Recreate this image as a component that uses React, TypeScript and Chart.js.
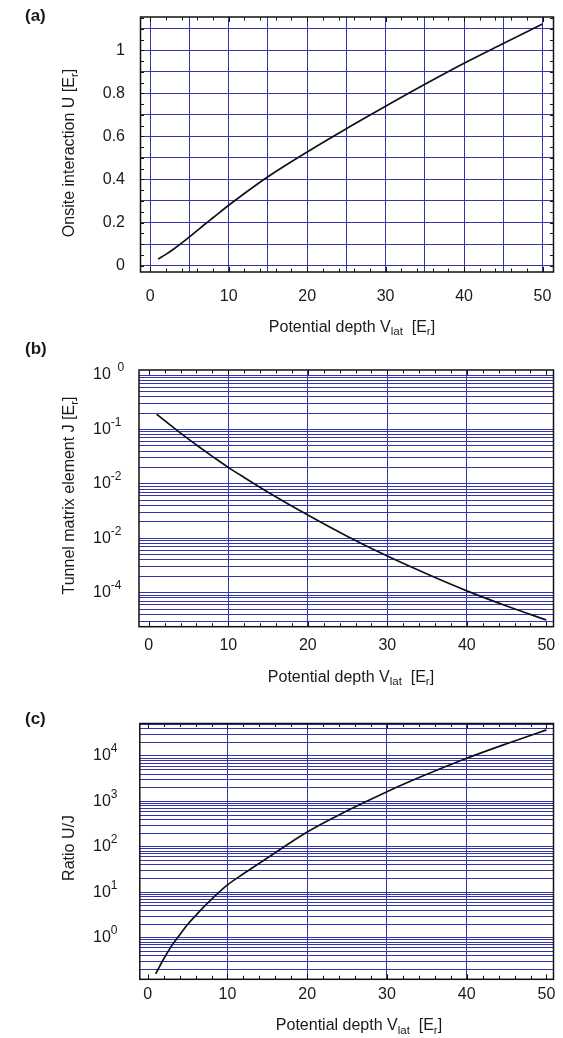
import React, { useEffect, useRef } from 'react';
import { Chart, registerables } from 'chart.js';

Chart.register(...registerables);

// ---------- data ----------
const depthV = [1, 2, 3, 4, 5, 6, 7, 8, 10, 12, 15, 20, 25, 30, 35, 40, 45, 50];
const onsiteU = [0.03, 0.052, 0.077, 0.104, 0.133, 0.163, 0.193, 0.222, 0.28, 0.335, 0.413, 0.528, 0.636, 0.74, 0.842, 0.94, 1.032, 1.123];
const tunnelJ = [0.19, 0.145, 0.111, 0.0855, 0.0662, 0.0516, 0.0406, 0.032, 0.0201, 0.0131, 0.00703, 0.00267, 0.00108, 0.00047, 0.00022, 0.000108, 0.000057, 0.0000315];
const ratioUJ = [0.16, 0.34, 0.66, 1.15, 1.95, 3.05, 4.7, 7.0, 14.5, 25.5, 57, 212, 620, 1640, 3950, 8900, 18600, 37500];

// ---------- tick labels ----------
const xTickValues = [0, 10, 20, 30, 40, 50];
const xTickLabels = ['0', '10', '20', '30', '40', '50'];
const uTickValues = [0, 0.2, 0.4, 0.6, 0.8, 1];
const uTickLabels = ['0', '0.2', '0.4', '0.6', '0.8', '1'];
const jTickValues = [1, 0.1, 0.01, 0.001, 0.0001];
const jTickExponents = ['  0', '-1', '-2', '-2', '-4'];
const rTickValues = [1, 10, 100, 1000, 10000];
const rTickExponents = ['0', '1', '2', '3', '4'];

const xGridA = [0, 5, 10, 15, 20, 25, 30, 35, 40, 45, 50];
const xGridBC = [10, 20, 30, 40];
const uGrid = [0, 0.1, 0.2, 0.3, 0.4, 0.5, 0.6, 0.7, 0.8, 0.9, 1.0, 1.1];

const FONT = '"Liberation Sans", Arial, Helvetica, sans-serif';
const GRID = 'rgb(52,52,172)';
const INK = '#1a1a1a';

type Part = { t: string; s?: 'sub' | 'sup' };

function logGrid(min: number, max: number) {
  const out: { value: number }[] = [];
  for (let e = -6; e <= 5; e++) {
    for (let k = 1; k <= 9; k++) {
      const v = k * Math.pow(10, e);
      if (v >= min && v <= max) out.push({ value: v });
    }
  }
  return out;
}

function drawRich(ctx: CanvasRenderingContext2D, parts: Part[], x: number, y: number, align: 'left' | 'center' | 'right', size: number, small: number, subDy: number, supDy: number) {
  ctx.textBaseline = 'middle';
  ctx.textAlign = 'left';
  const widths = parts.map((p) => {
    ctx.font = `${p.s ? small : size}px ${FONT}`;
    return ctx.measureText(p.t).width;
  });
  const total = widths.reduce((a, b) => a + b, 0);
  let cx = align === 'left' ? x : align === 'center' ? x - total / 2 : x - total;
  parts.forEach((p, i) => {
    ctx.font = `${p.s ? small : size}px ${FONT}`;
    const dy = p.s === 'sub' ? subDy : p.s === 'sup' ? -supDy : 0;
    ctx.fillText(p.t, cx, y + dy);
    cx += widths[i];
  });
}

const xTitle: Part[] = [{ t: 'Potential depth V' }, { t: 'lat', s: 'sub' }, { t: '  [E' }, { t: 'r', s: 'sub' }, { t: ']' }];

interface PanelCfg {
  label: string;
  top: number;
  height: number;
  area: { left: number; right: number; top: number; bottom: number };
  xMin: number; xMax: number; yMin: number; yMax: number;
  yType: 'linear' | 'logarithmic';
  values: number[];
  xGrid: number[];
  yGrid: { value: number }[];
  yTitle: Part[];
  yTitleCenter: [number, number];
  xTitleCenter: [number, number];
  xTickY: number;
  labelY: number;
  yTickDraw: (ctx: CanvasRenderingContext2D, chart: any) => void;
  yMinor?: number[];
}

const panels: PanelCfg[] = [
  {
    label: '(a)', top: 0, height: 340,
    area: { left: 140.5, right: 553.5, top: 17, bottom: 272 },
    xMin: -1.24, xMax: 51.4, yMin: -0.03, yMax: 1.155, yType: 'linear',
    values: onsiteU, xGrid: xGridA, yGrid: uGrid.map((v) => ({ value: v })),
    yTitle: [{ t: 'Onsite interaction U [E' }, { t: 'r', s: 'sub' }, { t: ']' }],
    yTitleCenter: [70, 153], xTitleCenter: [352, 327.5], xTickY: 296.7, labelY: 16,
    yTickDraw: (ctx, chart) => {
      const ys = chart.scales.y;
      ctx.font = `16px ${FONT}`; ctx.textAlign = 'right'; ctx.textBaseline = 'middle';
      uTickValues.forEach((v, i) => ctx.fillText(uTickLabels[i], 125, ys.getPixelForValue(v)));
    },
    yMinor: [0, 0.05, 0.1, 0.15, 0.2, 0.25, 0.3, 0.35, 0.4, 0.45, 0.5, 0.55, 0.6, 0.65, 0.7, 0.75, 0.8, 0.85, 0.9, 0.95, 1.0, 1.05, 1.1, 1.15],
  },
  {
    label: '(b)', top: 340, height: 350,
    area: { left: 139, right: 553.5, top: 370, bottom: 626.7 },
    xMin: -1.23, xMax: 50.9, yMin: 2.37e-5, yMax: 1.236, yType: 'logarithmic',
    values: tunnelJ, xGrid: xGridBC, yGrid: logGrid(2.37e-5, 1.236),
    yTitle: [{ t: 'Tunnel matrix element J [E' }, { t: 'r', s: 'sub' }, { t: ']' }],
    yTitleCenter: [70, 495.5], xTitleCenter: [351, 677.7], xTickY: 645.5, labelY: 349,
    yTickDraw: (ctx, chart) => {
      const ys = chart.scales.y;
      jTickValues.forEach((v, i) => drawRich(ctx, [{ t: '10' }, { t: jTickExponents[i], s: 'sup' }], 93, ys.getPixelForValue(v), 'left', 16, 12, 0, 7));
    },
  },
  {
    label: '(c)', top: 690, height: 348,
    area: { left: 139.8, right: 553.5, top: 723.5, bottom: 979.3 },
    xMin: -0.99, xMax: 50.88, yMin: 0.1214, yMax: 5.19e4, yType: 'logarithmic',
    values: ratioUJ, xGrid: xGridBC, yGrid: logGrid(0.1214, 5.19e4),
    yTitle: [{ t: 'Ratio U/J' }],
    yTitleCenter: [70, 848], xTitleCenter: [359, 1026], xTickY: 995, labelY: 719,
    yTickDraw: (ctx, chart) => {
      const ys = chart.scales.y;
      rTickValues.forEach((v, i) => drawRich(ctx, [{ t: '10' }, { t: rTickExponents[i], s: 'sup' }], 93, ys.getPixelForValue(v), 'left', 16, 12, 0, 7));
    },
  },
];

function Panel({ cfg }: { cfg: PanelCfg }) {
  const ref = useRef<HTMLCanvasElement>(null);
  useEffect(() => {
    if (!ref.current) return;
    const off = cfg.top;
    const decor = {
      id: 'decor',
      afterDraw(chart: any) {
        const ctx: CanvasRenderingContext2D = chart.ctx;
        const a = chart.chartArea;
        const xs = chart.scales.x;
        const ys = chart.scales.y;
        ctx.save();
        // frame
        ctx.strokeStyle = '#111';
        ctx.lineWidth = 1.5;
        ctx.strokeRect(a.left, a.top, a.right - a.left, a.bottom - a.top);
        // minor ticks on x (bottom + top)
        ctx.lineWidth = 1;
        for (let v = 0; v <= 50; v += 2) {
          const px = Math.round(xs.getPixelForValue(v)) + 0.5;
          const len = v % 10 === 0 ? 5 : 3.5;
          ctx.beginPath();
          ctx.moveTo(px, a.bottom); ctx.lineTo(px, a.bottom - len);
          ctx.moveTo(px, a.top); ctx.lineTo(px, a.top + len);
          ctx.stroke();
        }
        if (cfg.yMinor) {
          cfg.yMinor.forEach((v) => {
            const py = Math.round(ys.getPixelForValue(v)) + 0.5;
            ctx.beginPath();
            ctx.moveTo(a.left, py); ctx.lineTo(a.left + 3.5, py);
            ctx.moveTo(a.right, py); ctx.lineTo(a.right - 3.5, py);
            ctx.stroke();
          });
        }
        ctx.fillStyle = INK;
        // y tick labels (scale pixels are canvas-relative)
        cfg.yTickDraw(ctx, chart);
        ctx.translate(0, -off);
        // x tick labels
        ctx.font = `16px ${FONT}`; ctx.textAlign = 'center'; ctx.textBaseline = 'middle';
        xTickValues.forEach((v, i) => ctx.fillText(xTickLabels[i], xs.getPixelForValue(v), cfg.xTickY));
        // x title
        drawRich(ctx, xTitle, cfg.xTitleCenter[0], cfg.xTitleCenter[1], 'center', 16, 11.5, 4.5, 0);
        // panel label
        ctx.font = `bold 17px ${FONT}`; ctx.textAlign = 'left'; ctx.textBaseline = 'middle';
        ctx.fillText(cfg.label, 25, cfg.labelY);
        // y title rotated
        ctx.translate(cfg.yTitleCenter[0], cfg.yTitleCenter[1]);
        ctx.rotate(-Math.PI / 2);
        drawRich(ctx, cfg.yTitle, 0, 0, 'center', 16, 11.5, 4.5, 0);
        ctx.restore();
      },
    };
    const chart = new Chart(ref.current, {
      type: 'line',
      data: {
        datasets: [{
          data: depthV.map((v, i) => ({ x: v, y: cfg.values[i] })),
          borderColor: '#111',
          borderWidth: 1.7,
          pointRadius: 0,
          fill: false,
          cubicInterpolationMode: 'monotone',
        }],
      },
      options: {
        animation: false,
        responsive: false,
        devicePixelRatio: 1,
        layout: {
          padding: {
            left: cfg.area.left,
            right: 563 - cfg.area.right,
            top: cfg.area.top - cfg.top,
            bottom: cfg.top + cfg.height - cfg.area.bottom,
          },
        },
        plugins: { legend: { display: false }, tooltip: { enabled: false } },
        scales: {
          x: {
            type: 'linear', min: cfg.xMin, max: cfg.xMax,
            afterBuildTicks: (s: any) => { s.ticks = cfg.xGrid.map((v) => ({ value: v })); },
            afterFit: (s: any) => { s.height = 0; },
            ticks: { display: false },
            grid: { color: GRID, lineWidth: 1, drawTicks: false },
            border: { display: false },
          },
          y: {
            type: cfg.yType, min: cfg.yMin, max: cfg.yMax,
            afterBuildTicks: (s: any) => { s.ticks = cfg.yGrid.map((t) => ({ value: t.value })); },
            afterFit: (s: any) => { s.width = 0; },
            ticks: { display: false },
            grid: { color: GRID, lineWidth: 1, drawTicks: false },
            border: { display: false },
          },
        },
      } as any,
      plugins: [decor],
    });
    return () => chart.destroy();
  }, [cfg]);
  return (
    <canvas
      ref={ref}
      width={563}
      height={cfg.height}
      style={{ position: 'absolute', left: 0, top: cfg.top, width: 563, height: cfg.height }}
    />
  );
}

export default function App() {
  return (
    <div style={{ position: 'absolute', left: 0, top: 0, width: 563, height: 1038, background: '#fff', overflow: 'hidden' }}>
      {panels.map((p) => (
        <Panel key={p.label} cfg={p} />
      ))}
    </div>
  );
}
